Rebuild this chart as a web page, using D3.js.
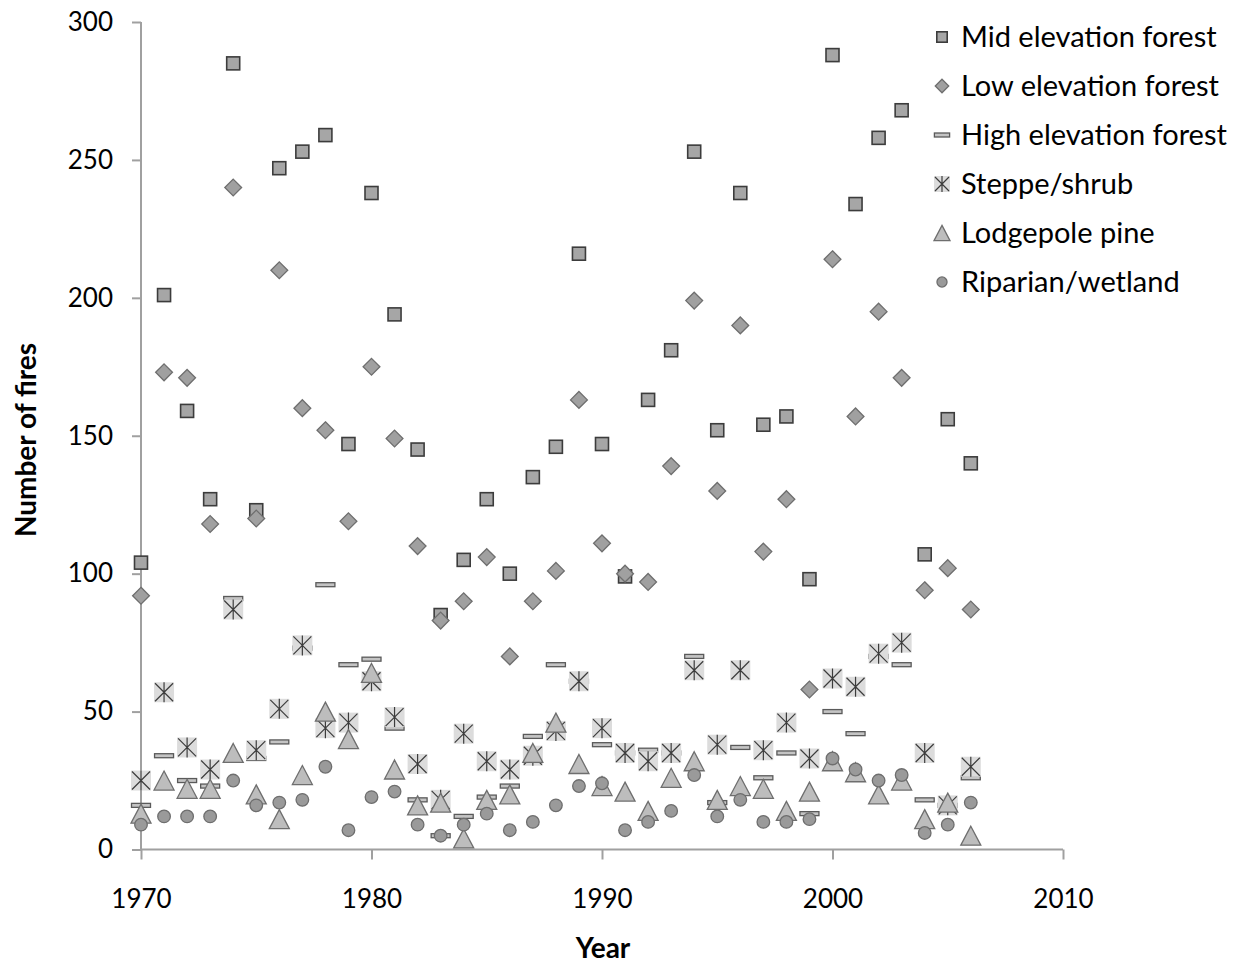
<!DOCTYPE html>
<html>
<head>
<meta charset="utf-8">
<script src="https://cdn.jsdelivr.net/npm/d3@7"></script>
<style>
  body { margin: 0; background: #fff; }
  svg { display: block; }
  text { font-family: Lato, "Open Sans", sans-serif; fill: #000; }
  .axis path, .axis line { stroke: #a0a0a0; stroke-width: 2; }
</style>
</head>
<body>
<script>
// anos 1970-2006
var years = d3.range(1970, 2007);

var midForest = [104,201,159,127,285,123,247,253,259,147,238,194,145,85,105,127,100,135,146,216,
  147,99,163,181,253,152,238,154,157,98,288,234,258,268,107,156,140];
var lowForest = [92,173,171,118,240,120,210,160,152,119,175,149,110,83,90,106,70,90,101,163,
  111,100,97,139,199,130,190,108,127,58,214,157,195,171,94,102,87];
var highForest = [16,34,25,23,91,33,39,73,96,67,69,44,18,5,12,19,23,41,67,61,
  38,35,36,35,70,17,37,26,35,13,50,42,70,67,18,16,26];
var steppe = [25,57,37,29,87,36,51,74,44,46,61,48,31,18,42,32,29,34,43,61,
  44,35,32,35,65,38,65,36,46,33,62,59,71,75,35,16,30];
var lodgepole = [13,25,22,22,35,20,11,27,50,40,64,29,16,17,4,18,20,35,46,31,
  23,21,14,26,32,18,23,22,14,21,32,28,20,25,11,17,5];
var riparian = [9,12,12,12,25,16,17,18,30,7,19,21,9,5,9,13,7,10,16,23,
  24,7,10,14,27,12,18,10,10,11,33,29,25,27,6,9,17];

var seriesNames = ["Mid elevation forest","Low elevation forest","High elevation forest",
  "Steppe/shrub","Lodgepole pine","Riparian/wetland"];
var seriesValues = [midForest, lowForest, highForest, steppe, lodgepole, riparian];
var markerTypes = ["square","diamond","bar","steppe","triangle","circle"];

var xTicks = [1970,1980,1990,2000,2010];
var yTicks = [0,50,100,150,200,250,300];

var w = 1242;
var h = 967;

var svg = d3.select("body").append("svg");
svg.attr("width",w).attr("height",h);

//escalas
var xScale = d3.scaleLinear().domain([1970,2010]).range([141,1063]);
var yScale = d3.scaleLinear().domain([0,300]).range([849.5,22]);

//eixos
var xAxis = d3.axisBottom(xScale).tickValues(xTicks).tickFormat(d3.format("d"))
  .tickSize(10).tickPadding(30);
var yAxis = d3.axisLeft(yScale).tickValues(yTicks).tickSize(9).tickPadding(19);

var gx = svg.append("g").attr("class","axis")
  .attr("transform","translate(0," + yScale(0) + ")").call(xAxis);
gx.select(".domain").attr("d","M" + xScale(1970) + ",0H" + xScale(2010));
gx.selectAll("text").attr("font-size","26px").attr("fill","#000");

var gy = svg.append("g").attr("class","axis")
  .attr("transform","translate(" + xScale(1970) + ",0)").call(yAxis);
gy.select(".domain").attr("d","M0," + yScale(300) + "V" + yScale(0));
gy.selectAll("text").attr("font-size","26px").attr("fill","#000");

svg.selectAll(".axis text").style("font-family","Lato, sans-serif");

// titulos
svg.append("text").text("Year")
  .attr("x",603).attr("y",958)
  .attr("text-anchor","middle")
  .attr("font-size","28px").attr("font-weight","bold");

svg.append("text").text("Number of fires")
  .attr("transform","translate(36,440) rotate(-90)")
  .attr("text-anchor","middle")
  .attr("font-size","28px").attr("font-weight","bold");

// desenha um marcador
function drawMarker(g, type, s) {
  if (type == "square") {
    g.append("rect").attr("x",-6.5*s).attr("y",-6.5*s).attr("width",13*s).attr("height",13*s)
      .attr("fill","#a6a6a6").attr("stroke","#3c3c3c").attr("stroke-width",1.6);
  } else if (type == "diamond") {
    g.append("path").attr("d",d3.symbol(d3.symbolDiamond2, 180*s*s)())
      .attr("fill","#a0a0a0").attr("stroke","#6e6e6e").attr("stroke-width",1.3);
  } else if (type == "bar") {
    g.append("rect").attr("x",-9.5*s).attr("y",-2).attr("width",19*s).attr("height",4)
      .attr("fill","#c4c4c4").attr("stroke","#5a5a5a").attr("stroke-width",1.3);
  } else if (type == "steppe") {
    var r = 10*s;
    g.append("rect").attr("x",-r).attr("y",-r).attr("width",2*r).attr("height",2*r)
      .attr("fill","#dcdcdc");
    g.append("path")
      .attr("d","M"+(-r+1)+","+(-r+1)+"L"+(r-1)+","+(r-1)+"M"+(r-1)+","+(-r+1)+"L"+(-r+1)+","+(r-1)+"M0,"+(-r)+"V"+r)
      .attr("stroke","#3c3c3c").attr("stroke-width",1.2).attr("fill","none");
  } else if (type == "triangle") {
    var tw = 10*s, th = 9.5*s;
    g.append("path").attr("d","M0,"+(-th)+"L"+tw+","+th+"L"+(-tw)+","+th+"Z")
      .attr("fill","#bdbdbd").attr("stroke","#6e6e6e").attr("stroke-width",1.3);
  } else if (type == "circle") {
    g.append("circle").attr("r",6.3*s)
      .attr("fill","#9a9a9a").attr("stroke","#6e6e6e").attr("stroke-width",1.3);
  }
}

// pontos
seriesValues.forEach(function(vals, k) {
  svg.append("g").selectAll("g")
    .data(vals)
    .enter()
    .append("g")
    .attr("transform",function(d,i){
      return "translate(" + xScale(years[i]) + "," + yScale(d) + ")";
    })
    .each(function(){ drawMarker(d3.select(this), markerTypes[k], 1); });
});

// legenda
var legend = svg.append("g");
seriesNames.forEach(function(name, k) {
  var row = legend.append("g").attr("transform","translate(942," + (37 + k*49) + ")");
  var m = row.append("g");
  drawMarker(m, markerTypes[k], 0.8);
  row.append("text").text(name)
    .attr("x",19).attr("y",10)
    .attr("font-size","29px");
});
</script>
</body>
</html>
